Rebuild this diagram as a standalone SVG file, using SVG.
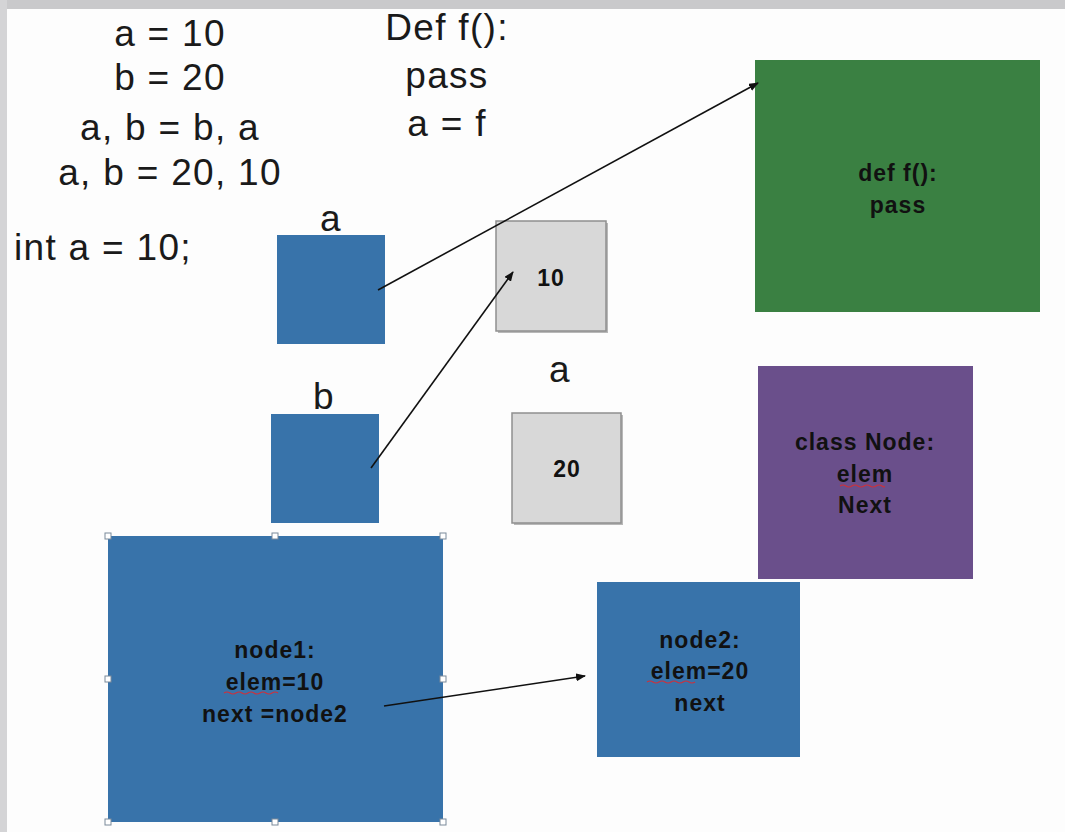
<svg xmlns="http://www.w3.org/2000/svg" width="1065" height="832" viewBox="0 0 1065 832">
<defs>
<style>
.t{font-family:"Liberation Sans",Arial,sans-serif;font-size:37px;letter-spacing:1.3px;fill:#1a1a1a;text-anchor:middle}
.b{font-family:"Liberation Sans",Arial,sans-serif;font-size:23px;letter-spacing:1px;font-weight:bold;fill:#111;text-anchor:middle}
.blue{fill:#3873aa}
.gray{fill:#d8d8d8;stroke:#8f8f8f;stroke-width:1.5}
.h{fill:#fff;stroke:#7a8a9a;stroke-width:1}
.sq{fill:none;stroke:#d0303a;stroke-width:1.2}
.c{stroke:#111;stroke-width:1.6;fill:none;marker-end:url(#ah)}
</style>
<marker id="ah" markerWidth="10" markerHeight="8" refX="9" refY="4" orient="auto" markerUnits="userSpaceOnUse">
<path d="M0,0 L10,4 L0,8 z" fill="#111"/>
</marker>
</defs>
<rect width="1065" height="832" fill="#fdfdfd"/>
<rect width="1065" height="9" fill="#c9c9cb"/>
<rect width="7" height="832" fill="#d4d4d6"/>
<g id="code-left">
<text class="t" x="170" y="46">a = 10</text>
<text class="t" x="170" y="90">b = 20</text>
<text class="t" x="170" y="140">a, b = b, a</text>
<text class="t" x="170" y="185">a, b = 20, 10</text>
<text class="t" x="14" y="260" style="text-anchor:start">int a = 10;</text>
</g>
<g id="code-def">
<text class="t" x="447" y="40">Def f():</text>
<text class="t" x="447" y="88">pass</text>
<text class="t" x="447" y="136">a = f</text>
</g>
<g id="var-a">
<text class="t" x="331" y="231">a</text>
<rect class="blue" x="277" y="235" width="108" height="109"/>
</g>
<g id="var-b">
<text class="t" x="324" y="409">b</text>
<rect class="blue" x="271" y="414" width="108" height="109"/>
</g>
<g id="val-10">
<rect x="498" y="223" width="110" height="110" fill="#b8b8b8"/>
<rect class="gray" x="496" y="221" width="110" height="110"/>
<text class="b" x="551" y="286">10</text>
</g>
<g id="label-a2">
<text class="t" x="560" y="382">a</text>
</g>
<g id="val-20">
<rect x="514" y="415" width="109" height="110" fill="#b8b8b8"/>
<rect class="gray" x="512" y="413" width="109" height="110"/>
<text class="b" x="567" y="477">20</text>
</g>
<g id="func-f">
<rect x="755" y="60" width="285" height="252" fill="#3a8042"/>
<text class="b" x="898" y="181">def f():</text>
<text class="b" x="898" y="213">pass</text>
</g>
<g id="class-node">
<rect x="758" y="366" width="215" height="213" fill="#6a4f8b"/>
<text class="b" x="865" y="450">class Node:</text>
<text class="b" x="865" y="482">elem</text>
<path class="sq" d="M840,486 q3,-2 6,0 t6,0 t6,0 t6,0 t6,0 t6,0 t6,0 t2,0"/>
<text class="b" x="865" y="513">Next</text>
</g>
<g id="node1">
<rect class="blue" x="108" y="536" width="335" height="286"/>
<text class="b" x="275" y="658">node1:</text>
<text class="b" x="275" y="690">elem=10</text>
<path class="sq" d="M224,693 q3,-2 6,0 t6,0 t6,0 t6,0 t6,0 t6,0 t6,0 t6,0 t6,0"/>
<text class="b" x="275" y="722">next =node2</text>
<rect class="h" x="105" y="533" width="6" height="6"/>
<rect class="h" x="272" y="533" width="6" height="6"/>
<rect class="h" x="440" y="533" width="6" height="6"/>
<rect class="h" x="105" y="676" width="6" height="6"/>
<rect class="h" x="440" y="676" width="6" height="6"/>
<rect class="h" x="105" y="819" width="6" height="6"/>
<rect class="h" x="272" y="819" width="6" height="6"/>
<rect class="h" x="440" y="819" width="6" height="6"/>
</g>
<g id="node2">
<rect class="blue" x="597" y="582" width="203" height="175"/>
<text class="b" x="700" y="648">node2:</text>
<text class="b" x="700" y="679">elem=20</text>
<path class="sq" d="M647,682 q3,-2 6,0 t6,0 t6,0 t6,0 t6,0 t6,0 t6,0 t6,0"/>
<text class="b" x="700" y="711">next</text>
</g>
<g id="connectors">
<line class="c" x1="378" y1="290" x2="758" y2="83"/>
<line class="c" x1="371" y1="468" x2="513" y2="272"/>
<line class="c" x1="384" y1="706" x2="585" y2="676"/>
</g>
</svg>
